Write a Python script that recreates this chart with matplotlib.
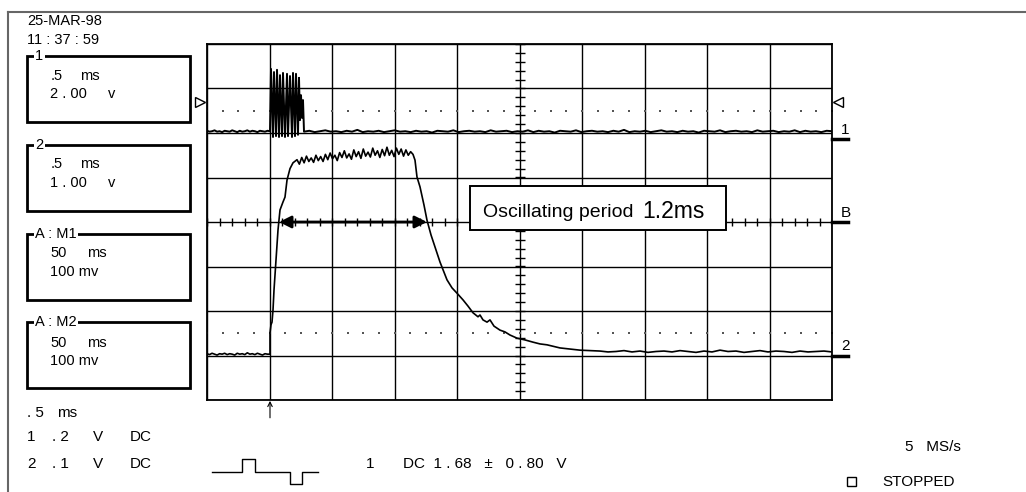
import numpy as np
import matplotlib
matplotlib.use('Agg')
import matplotlib.pyplot as plt
from matplotlib.patches import Rectangle

plt.rcParams['font.family'] = ['Liberation Sans', 'DejaVu Sans']

# screen: time in ms from the left edge (0.5 ms/div), amplitude in divisions (0 = line B)
ch1_pre = [2.05, 2.03, 2.04, 2.06, 2.03, 2.04, 2.02, 2.05, 2.04, 2.03, 2.06, 2.04, 2.02,
           2.05, 2.03, 2.04, 2.06, 2.03, 2.05, 2.04, 2.02, 2.05, 2.04, 2.03, 2.05, 2.04]
burst_t = [0.504, 0.512, 0.528, 0.536, 0.552, 0.560, 0.576, 0.584, 0.600, 0.608, 0.624, 0.640, 0.648,
           0.664, 0.680, 0.688, 0.704, 0.712, 0.728, 0.736, 0.744, 0.752, 0.760, 0.768, 0.776]
burst_v = [2.04, 3.44, 1.91, 3.37, 1.93, 3.42, 1.91, 3.30, 1.93, 3.35, 1.91, 3.33, 1.93,
           3.28, 1.91, 3.35, 1.93, 3.33, 1.96, 3.24, 2.29, 2.85, 2.34, 2.74, 2.04]
ch1_post = [2.03, 2.05, 2.02, 2.04, 2.06, 2.03, 2.04, 2.02, 2.05, 2.03, 2.07, 2.02, 2.04, 2.03, 2.05, 2.02, 2.04, 2.06, 2.03, 2.04,
            2.02, 2.05, 2.03, 2.04, 2.01, 2.05, 2.04, 2.03, 2.06, 2.02, 2.04, 2.05, 2.03, 2.04, 2.02, 2.06, 2.03, 2.04, 2.05, 2.02,
            2.04, 2.03, 2.06, 2.02, 2.05, 2.03, 2.04, 2.01, 2.05, 2.04, 2.03, 2.06, 2.02, 2.04, 2.05, 2.03, 2.04, 2.02, 2.05, 2.03,
            2.07, 2.02, 2.04, 2.03, 2.05, 2.02, 2.04, 2.06, 2.03, 2.04, 2.02, 2.05, 2.03, 2.04, 2.01, 2.05, 2.04, 2.03, 2.06, 2.02,
            2.04, 2.05, 2.03, 2.04, 2.02, 2.06, 2.03, 2.04, 2.05, 2.02, 2.04, 2.03, 2.06, 2.02, 2.05, 2.03, 2.04, 2.02, 2.05, 2.04]

ch2_pre = [-2.96, -2.98, -2.95, -2.97, -2.99, -2.96, -2.97, -2.95, -2.98, -2.96, -2.97, -2.99, -2.95,
           -2.97, -2.96, -2.98, -2.94, -2.97, -2.96, -2.98, -2.95, -2.97, -2.99, -2.96, -2.97, -2.97]
rise_t = [0.504, 0.504, 0.512, 0.520, 0.528, 0.536, 0.552, 0.568, 0.584, 0.608, 0.624, 0.640, 0.664, 0.688]
rise_v = [-2.97, -2.49, -2.31, -2.25, -1.98, -1.53, -0.85, -0.18, 0.27, 0.45, 0.56, 0.94, 1.20, 1.33]
plateau = [1.40, 1.30, 1.45, 1.33, 1.48, 1.36, 1.44, 1.34, 1.50, 1.38, 1.47, 1.36, 1.52, 1.40, 1.55, 1.42, 1.50,
           1.38, 1.56, 1.45, 1.60, 1.44, 1.53, 1.41, 1.62, 1.47, 1.58, 1.43, 1.64, 1.48, 1.57, 1.46, 1.66, 1.50,
           1.60, 1.45, 1.63, 1.49, 1.68, 1.50, 1.61, 1.47, 1.66, 1.52, 1.64, 1.48, 1.62, 1.50, 1.58, 1.52]
fall_t = [1.664, 1.680, 1.704, 1.736, 1.760, 1.792, 1.824, 1.864, 1.920, 1.960, 2.000, 2.048, 2.088, 2.128,
          2.168, 2.184, 2.208, 2.240, 2.264, 2.296, 2.344, 2.384, 2.424, 2.480, 2.544, 2.608, 2.664, 2.720,
          2.824, 2.984, 3.144]
fall_v = [1.39, 1.01, 0.79, 0.38, 0.04, -0.29, -0.56, -0.90, -1.30, -1.48, -1.60, -1.75, -1.89, -2.04,
          -2.13, -2.09, -2.20, -2.25, -2.20, -2.34, -2.43, -2.47, -2.54, -2.61, -2.65, -2.70, -2.74, -2.76,
          -2.83, -2.88, -2.90]
ch2_tail = [-2.90, -2.92, -2.91, -2.89, -2.92, -2.90, -2.93, -2.91, -2.90, -2.92, -2.89, -2.91, -2.93, -2.90, -2.92,
            -2.88, -2.91, -2.90, -2.93, -2.91, -2.89, -2.92, -2.90, -2.91, -2.93, -2.90, -2.92, -2.91, -2.90, -2.92]

trig_t = 0.504
period_start, period_end = 0.576, 1.760

t1 = np.concatenate([np.linspace(0, trig_t, len(ch1_pre)), burst_t, np.linspace(0.776, 5.0, len(ch1_post))])
v1 = np.concatenate([ch1_pre, burst_v, ch1_post])
t2 = np.concatenate([np.linspace(0, trig_t, len(ch2_pre)), rise_t, np.linspace(0.72, 1.648, len(plateau)),
                     fall_t, np.linspace(3.144, 5.0, len(ch2_tail))])
v2 = np.concatenate([ch2_pre, rise_v, plateau, fall_v, ch2_tail])

fig = plt.figure(figsize=(10.26, 4.92), dpi=100)

# text / frame layer in pixel coordinates
bg = fig.add_axes([0, 0, 1, 1])
bg.set_xlim(0, 1026)
bg.set_ylim(492, 0)
bg.axis('off')
bg.plot([8, 1026], [12, 12], color='#666666', lw=1.5)
bg.plot([8, 8], [12, 492], color='#666666', lw=1.5)

fs = 10.5
bg.text(27, 21, '25-MAR-98', fontsize=fs, va='center')
bg.text(27, 40, '11 : 37 : 59', fontsize=fs, va='center')

def panel(top, title, rows):
    bg.add_patch(Rectangle((27, top), 163, 66, fill=False, lw=2, ec='black'))
    bg.text(35, top, title, fontsize=fs, va='center', ha='left',
            bbox=dict(facecolor='white', edgecolor='none', pad=1))
    for dy, items in rows:
        for x, s in items:
            bg.text(x, top + dy, s, fontsize=fs, va='center')

panel(56, '1', [(20, [(51, '.5'), (80, 'ms')]), (38, [(50, '2 . 00'), (108, 'v')])])
panel(145, '2', [(19, [(51, '.5'), (80, 'ms')]), (38, [(50, '1 . 00'), (108, 'v')])])
panel(234, 'A : M1', [(19, [(50, '50'), (87, 'ms')]), (38, [(50, '100 mv')])])
panel(322, 'A : M2', [(21, [(50, '50'), (87, 'ms')]), (39, [(50, '100 mv')])])

fb = 11
bg.text(27, 413, '. 5', fontsize=fb, va='center')
bg.text(57, 413, 'ms', fontsize=fb, va='center')
for y, ch, sc in [(437, '1', '. 2'), (464, '2', '. 1')]:
    bg.text(27, y, ch, fontsize=fb, va='center')
    bg.text(52, y, sc, fontsize=fb, va='center')
    bg.text(93, y, 'V', fontsize=fb, va='center')
    bg.text(130, y, 'DC', fontsize=fb, va='center')
bg.plot([212, 242, 242, 255, 255, 290, 290, 302, 302, 318],
        [472, 472, 459, 459, 472, 472, 484, 484, 472, 472], color='black', lw=1)
bg.text(366, 464, '1', fontsize=fb, va='center')
bg.text(403, 464, 'DC  1 . 68   \u00b1   0 . 80   V', fontsize=fb, va='center')
bg.text(905, 447, '5   MS/s', fontsize=fb, va='center')
bg.add_patch(Rectangle((847, 477), 9, 9, fill=False, lw=1, ec='black'))
bg.text(882, 482, 'STOPPED', fontsize=fb, va='center')

# scope screen
ax = fig.add_axes([207 / 1026, 92 / 492, 625 / 1026, 356 / 492])
ax.set_xlim(0, 5)
ax.set_ylim(-4, 4)
ax.set_xticks(np.arange(0, 5.01, 0.5))
ax.set_yticks(np.arange(-4, 4.01, 1))
ax.tick_params(length=0, labelbottom=False, labelleft=False)
ax.grid(True, color='black', lw=1)
for sp in ax.spines.values():
    sp.set_linewidth(1.3)

# centre-line ticks
ax.vlines(np.arange(0, 5.01, 0.1), -0.09, 0.09, color='black', lw=1)
ax.hlines(np.arange(-4, 4.01, 0.2), 2.46, 2.54, color='black', lw=1)

# reference level dots
dots = np.arange(0, 5.01, 0.125)
ax.plot(dots, np.full(dots.size, 2.49), ls='none', marker='s', ms=1.5, mew=0, color='#555555')
ax.plot(dots, np.full(dots.size, -2.49), ls='none', marker='s', ms=1.5, mew=0, color='#555555')

ax.plot(t1, v1, color='black', lw=1.4, zorder=3)
ax.plot(t2, v2, color='black', lw=1.2, zorder=3)

# period arrow and label
ax.annotate('', xy=(period_start, 0), xytext=(period_end, 0),
            arrowprops=dict(arrowstyle='<|-|>', color='black', lw=2, mutation_scale=18, shrinkA=0, shrinkB=0),
            zorder=4)
ax.add_patch(Rectangle((2.104, -0.18), 2.048, 0.99, fc='white', ec='black', lw=1.4, zorder=5))
ax.text(2.208, 0.22, 'Oscillating period', fontsize=14, va='center', zorder=6)
ax.text(3.48, 0.24, '1.2ms', fontsize=16.5, va='center', zorder=6)

# channel markers at the right edge
for v, lab, dy in [(1.87, '1', 0.2), (0.0, 'B', 0.2), (-3.01, '2', 0.22)]:
    ax.plot([5.0, 5.13], [v, v], color='black', lw=2.5, clip_on=False)
    ax.text(5.07, v + dy, lab, fontsize=11, va='center', clip_on=False)
ax.plot([-0.06], [2.70], marker='>', ms=7, mfc='white', mec='black', mew=1, clip_on=False)
ax.plot([5.05], [2.70], marker='<', ms=7, mfc='white', mec='black', mew=1, clip_on=False)

# trigger arrow below the screen
ax.annotate('', xy=(trig_t, -4.02), xytext=(trig_t, -4.4),
            arrowprops=dict(arrowstyle='->', color='black', lw=0.8, mutation_scale=8, shrinkA=0, shrinkB=0),
            annotation_clip=False)

fig.savefig('out.png', dpi=100)
